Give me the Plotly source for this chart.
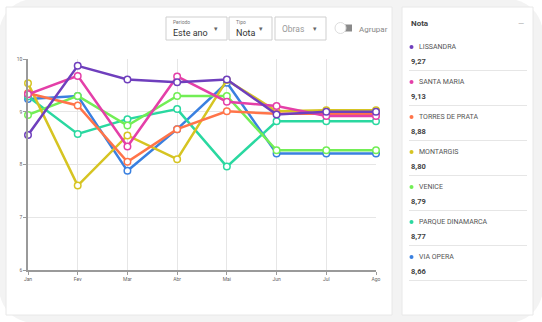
import plotly.graph_objects as go

months = ["Jan", "Fev", "Mar", "Abr", "Mai", "Jun", "Jul", "Ago"]
names = ["LISSANDRA", "SANTA MARIA", "TORRES DE PRATA", "MONTARGIS", "VENICE", "PARQUE DINAMARCA", "VIA OPERA"]
averages = ["9,27", "9,13", "8,88", "8,80", "8,79", "8,77", "8,66"]
lissandra = [8.56, 9.87, 9.61, 9.56, 9.61, 8.95, 9.00, 9.00]
santa_maria = [9.33, 9.68, 8.34, 9.67, 9.19, 9.11, 8.92, 8.92]
torres_de_prata = [9.35, 9.12, 8.05, 8.67, 9.01, 8.96, 8.96, 8.96]
montargis = [9.54, 7.60, 8.55, 8.10, 9.60, 9.01, 9.03, 9.03]
venice = [8.94, 9.30, 8.74, 9.30, 9.30, 8.27, 8.27, 8.27]
parque_dinamarca = [9.29, 8.58, 8.86, 9.05, 7.96, 8.82, 8.82, 8.82]
via_opera = [9.24, 9.30, 7.88, 8.67, 9.55, 8.21, 8.21, 8.21]
series = [lissandra, santa_maria, torres_de_prata, montargis, venice, parque_dinamarca, via_opera]
colors = ["#6f3fbd", "#e43fa8", "#ff7449", "#d6c422", "#72ee55", "#2ad8a0", "#3a80e0"]
y_ticks = [6, 7, 8, 9, 10]

W, H = 542, 322
L, R, T, B = 28, 376, 59, 270

def px(x):
    return (x - L) / (R - L)

def py(y):
    return (B - y) / (B - T)

fig = go.Figure()
for name, vals, col in reversed(list(zip(names, series, colors))):
    fig.add_trace(go.Scatter(
        x=list(range(len(months))), y=vals, name=name, mode="lines+markers",
        line=dict(color=col, width=2.5),
        marker=dict(symbol="circle", size=6.5, color="white", line=dict(color=col, width=1.5)),
        cliponaxis=False, showlegend=False))

shapes = []
ann = []
shapes.append(dict(type="rect", xref="paper", yref="paper", x0=px(0), x1=px(W), y0=py(H), y1=py(0),
                   fillcolor="white", line=dict(width=0), layer="below"))
r = 45
x0, y0, x1, y1 = -2, -2, 544, 324
path = (f"M {px(x0+r)},{py(y0)} L {px(x1-r)},{py(y0)} Q {px(x1)},{py(y0)} {px(x1)},{py(y0+r)} "
        f"L {px(x1)},{py(y1-r)} Q {px(x1)},{py(y1)} {px(x1-r)},{py(y1)} L {px(x0+r)},{py(y1)} "
        f"Q {px(x0)},{py(y1)} {px(x0)},{py(y1-r)} L {px(x0)},{py(y0+r)} Q {px(x0)},{py(y0)} {px(x0+r)},{py(y0)} Z")
shapes.append(dict(type="path", xref="paper", yref="paper", path=path, fillcolor="#f3f3f3",
                   line=dict(width=0), layer="below"))
for (a, b, c, d) in [(6, 7, 392, 315), (402, 7, 533, 315)]:
    shapes.append(dict(type="rect", xref="paper", yref="paper", x0=px(a), x1=px(c), y0=py(d), y1=py(b),
                       fillcolor="white", line=dict(color="#e8e8e8", width=1), layer="below"))

boxes = [(166, 227), (229, 272), (275, 326)]
for a, c in boxes:
    shapes.append(dict(type="rect", xref="paper", yref="paper", x0=px(a), x1=px(c), y0=py(40), y1=py(17),
                       fillcolor="white", line=dict(color="#cfcfcf", width=1)))

def text(x, y, s, size, color, anchor="left", bold=False):
    ann.append(dict(x=px(x), y=py(y), xref="paper", yref="paper", text=f"<b>{s}</b>" if bold else s,
                    showarrow=False, xanchor=anchor, yanchor="middle",
                    font=dict(family="Roboto", size=size, color=color)))

text(171, 22, "Periodo", 5, "#777")
text(171, 33, "Este ano", 9, "#333")
text(216, 29, "▾", 7, "#666", "center")
text(234, 22, "Tipo", 5, "#777")
text(234, 33, "Nota", 9, "#333")
text(261, 29, "▾", 7, "#666", "center")
text(280, 29, "Obras", 8.5, "#999")
text(315, 29, "▾", 7, "#666", "center")
shapes.append(dict(type="rect", xref="paper", yref="paper", x0=px(339), x1=px(352), y0=py(31.5), y1=py(24.5),
                   fillcolor="#8a8a8a", line=dict(width=0)))
shapes.append(dict(type="circle", xref="paper", yref="paper", x0=px(335), x1=px(346), y0=py(33.5), y1=py(22.5),
                   fillcolor="white", line=dict(color="#dddddd", width=1)))
text(357, 29, "Agrupar", 8, "#888")

text(409, 23, "Nota", 8, "#444", bold=True)
text(521, 23, "—", 8, "#aaa", "center")
for i, (n, a, col) in enumerate(zip(names, averages, colors)):
    yn = 47 + i * 35
    shapes.append(dict(type="circle", xref="paper", yref="paper", x0=px(409.5), x1=px(413.5),
                       y0=py(yn + 2), y1=py(yn - 2), fillcolor=col, line=dict(width=0)))
    text(417, yn, n, 7, "#555")
    text(409, yn + 14, a, 7.5, "#444", bold=True)
    shapes.append(dict(type="line", xref="paper", yref="paper", x0=px(409), x1=px(527),
                       y0=py(yn + 23.5), y1=py(yn + 23.5), line=dict(color="#e6e6e6", width=1)))

fig.update_layout(
    width=W, height=H, margin=dict(l=L, r=W - R, t=T, b=H - B),
    paper_bgcolor="rgba(0,0,0,0)", plot_bgcolor="rgba(0,0,0,0)",
    shapes=shapes, annotations=ann, showlegend=False,
    font=dict(family="Roboto"),
    xaxis=dict(range=[0, 7], tickvals=list(range(8)), ticktext=months,
               showgrid=True, gridcolor="#e6e6e6", gridwidth=1,
               showline=True, linecolor="#9a9a9a", linewidth=1.5,
               ticks="outside", ticklen=3, tickcolor="#9a9a9a",
               tickfont=dict(size=5, color="#666"), zeroline=False, fixedrange=True),
    yaxis=dict(range=[6, 10], tickvals=y_ticks, ticktext=[str(v) for v in y_ticks],
               showgrid=True, gridcolor="#e6e6e6", gridwidth=1,
               showline=True, linecolor="#9a9a9a", linewidth=1.5,
               ticks="outside", ticklen=3, tickcolor="#9a9a9a",
               tickfont=dict(size=5, color="#666"), zeroline=False, fixedrange=True),
)

fig.write_html("out.html", config={"displayModeBar": False})
